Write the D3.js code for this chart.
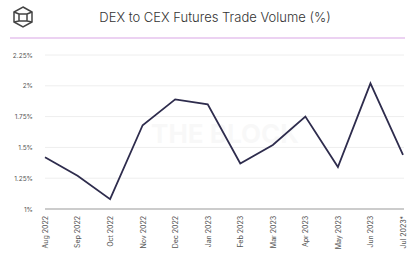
<!DOCTYPE html>
<html>
<head>
<meta charset="utf-8">
<script src="https://cdn.jsdelivr.net/npm/d3@7"></script>
<style>
  body { margin: 0; background: #fff; }
  svg { display: block; font-family: Inter, "Noto Sans", sans-serif; }
</style>
</head>
<body>
<div id="chart"></div>
<script>
// months and values (percent)
var months = ["Aug 2022", "Sep 2022", "Oct 2022", "Nov 2022", "Dec 2022", "Jan 2023",
              "Feb 2023", "Mar 2023", "Apr 2023", "May 2023", "Jun 2023", "Jul 2023*"];
var share = [1.42, 1.27, 1.08, 1.68, 1.89, 1.85, 1.37, 1.52, 1.75, 1.34, 2.02, 1.44];
var yTicks = [1, 1.25, 1.5, 1.75, 2, 2.25];

var w = 419, h = 259;
var margin = {top: 55, right: 16, bottom: 50, left: 45};

var svg = d3.select("#chart").append("svg")
    .attr("width", w)
    .attr("height", h);

// header: logo, title, purple rule
var logo = svg.append("g")
    .attr("transform", "translate(23,17)")
    .style("fill", "none")
    .style("stroke", "#444")
    .style("stroke-width", 1.5);
logo.append("path")
    .attr("d", "M0,-10 L9,-5 L9,5 L0,10 L-9,5 L-9,-5 Z");
logo.append("path")
    .attr("d", "M-4,-3 L4,-3 L4,4 L-4,4 Z M-9,-5 L-4,-3 M9,-5 L4,-3 M-9,5 L-4,4 M9,5 L4,4");

svg.append("text")
    .attr("x", 215)
    .attr("y", 22)
    .attr("text-anchor", "middle")
    .style("font-size", "13px")
    .style("font-weight", 300)
    .style("fill", "#333")
    .text("DEX to CEX Futures Trade Volume (%)");

svg.append("line")
    .attr("x1", 10).attr("x2", 405)
    .attr("y1", 38).attr("y2", 38)
    .style("stroke", "#d9a6e6")
    .style("stroke-width", 1.2);

// scales
var x = d3.scalePoint()
    .domain(months)
    .range([margin.left, w - margin.right]);

var y = d3.scaleLinear()
    .domain([1, 2.25])
    .range([h - margin.bottom, margin.top]);

// watermark
svg.append("text")
    .attr("x", 225)
    .attr("y", 143)
    .attr("text-anchor", "middle")
    .style("font-size", "26px")
    .style("font-weight", "bold")
    .style("fill", "#000")
    .style("opacity", 0.025)
    .text("THE BLOCK");

// gridlines + y labels
var yAxis = svg.append("g")
    .attr("transform", "translate(" + (margin.left - 4) + ",0)")
    .call(d3.axisLeft(y).tickValues(yTicks)
        .tickFormat(function(d) { return d3.format("")(d) + "%"; })
        .tickSize(0).tickPadding(8));
yAxis.select(".domain").remove();
yAxis.selectAll("text")
    .style("font-size", "6.5px")
    .style("font-family", "Inter, sans-serif")
    .style("fill", "#555");

svg.append("g")
    .selectAll("line")
    .data(yTicks)
    .enter()
    .append("line")
    .attr("x1", margin.left)
    .attr("x2", w - margin.right + 1)
    .attr("y1", function(d) { return y(d); })
    .attr("y2", function(d) { return y(d); })
    .style("stroke", function(d) { return d === 1 ? "#999" : "#eee"; })
    .style("stroke-width", function(d) { return d === 1 ? 1.2 : 1; });

// x axis
var xAxis = svg.append("g")
    .attr("transform", "translate(0," + (h - margin.bottom) + ")")
    .call(d3.axisBottom(x).tickSize(0).tickPadding(6));
xAxis.select(".domain").remove();
xAxis.selectAll("text")
    .attr("transform", "rotate(-90)")
    .attr("text-anchor", "end")
    .attr("dx", "-7")
    .attr("dy", "0.35em")
    .attr("x", 0)
    .attr("y", 0)
    .style("font-size", "7px")
    .style("font-family", "Inter, sans-serif")
    .style("fill", "#555");

// the line
var line = d3.line()
    .x(function(d, i) { return x(months[i]); })
    .y(function(d) { return y(d); });

svg.append("path")
    .datum(share)
    .attr("d", line)
    .style("fill", "none")
    .style("stroke", "#2e2c4d")
    .style("stroke-width", 1.8)
    .style("stroke-linejoin", "miter");
</script>
</body>
</html>
